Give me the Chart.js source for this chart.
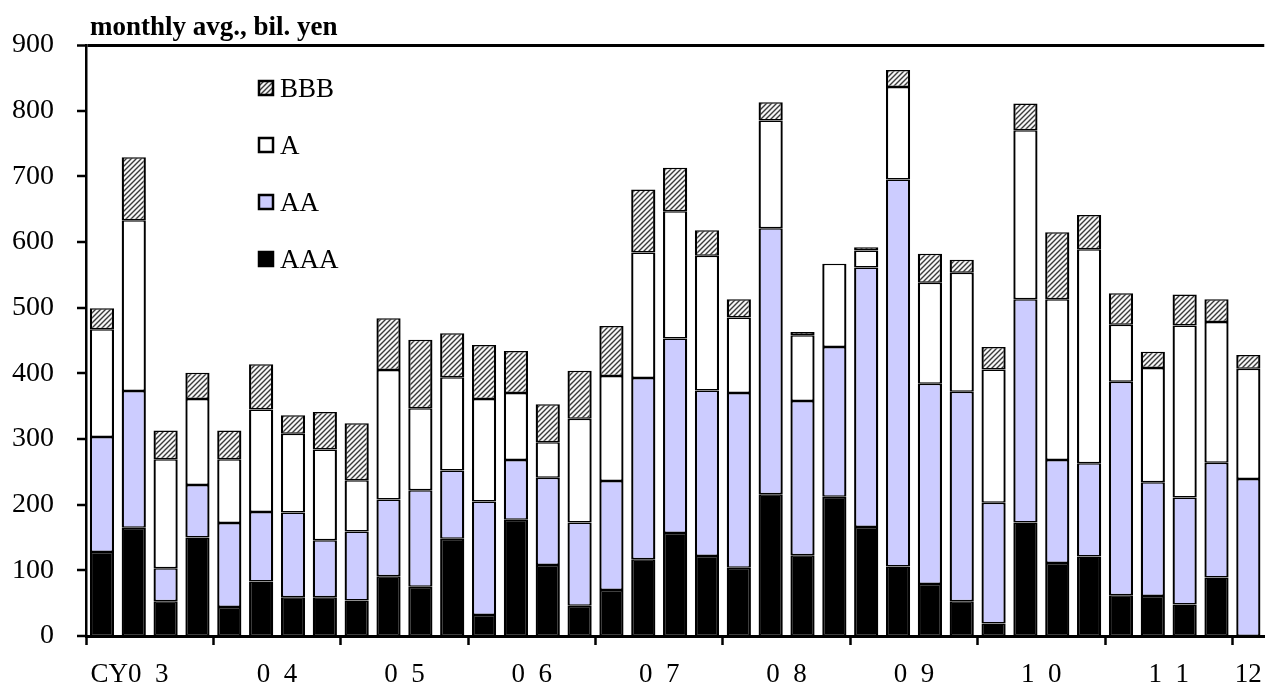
<!DOCTYPE html>
<html>
<head>
<meta charset="utf-8">
<script src="https://cdn.jsdelivr.net/npm/chart.js@4.4.1/dist/chart.umd.min.js"></script>
<style>
  html, body { margin: 0; padding: 0; background: #fff; overflow: hidden; }
  #wrap { width: 1276px; height: 690px; }
</style>
</head>
<body>
<div id="wrap"><canvas id="bonds" width="1276" height="690"></canvas></div>
<script>
// quarterly issuance by rating, monthly avg., bil. yen (CY2003 Q1 .. CY2012 Q1)
const quarters = [
  '03Q1', '03Q2', '03Q3', '03Q4', '04Q1', '04Q2', '04Q3', '04Q4',
  '05Q1', '05Q2', '05Q3', '05Q4', '06Q1', '06Q2', '06Q3', '06Q4',
  '07Q1', '07Q2', '07Q3', '07Q4', '08Q1', '08Q2', '08Q3', '08Q4',
  '09Q1', '09Q2', '09Q3', '09Q4', '10Q1', '10Q2', '10Q3', '10Q4',
  '11Q1', '11Q2', '11Q3', '11Q4', '12Q1'
];

// year labels as printed under the axis, and the quarter index where each year starts
const yearLabels = ['CY0  3', '0  4', '0  5', '0  6', '0  7', '0  8', '0  9', '1  0', '1  1', '12'];
const yearStart = [0, 4, 8, 12, 16, 20, 24, 28, 32, 36];

const aaa = [128, 165, 53, 150, 44, 83, 59, 59, 54, 91, 75, 148, 32, 177, 108, 46,
             70, 117, 157, 122, 104, 216, 123, 212, 166, 106, 79, 53, 19, 173, 111, 121,
             62, 61, 48, 89, 0];
const aa = [175, 208, 50, 80, 128, 106, 129, 87, 105, 117, 147, 104, 173, 91, 133, 127,
            166, 276, 296, 252, 266, 405, 235, 228, 395, 589, 305, 319, 184, 340, 157, 142,
            325, 173, 163, 175, 239];
const singleA = [164, 260, 166, 131, 97, 156, 120, 138, 78, 197, 125, 142, 156, 102, 54, 158,
                 160, 191, 194, 205, 115, 164, 100, 127, 26, 141, 154, 181, 203, 257, 245, 326,
                 87, 174, 262, 214, 168];
const bbb = [32, 96, 44, 40, 44, 69, 28, 57, 87, 79, 104, 67, 82, 64, 58, 73,
             76, 96, 66, 39, 28, 28, 5, 0, 5, 26, 44, 20, 34, 41, 102, 52,
             48, 25, 47, 35, 21];

const unitText = 'monthly avg., bil. yen';
const yTicks = [0, 100, 200, 300, 400, 500, 600, 700, 800, 900];

const canvas = document.getElementById('bonds');
const ctx = canvas.getContext('2d');

// diagonal hatch used for BBB
function makeHatch() {
  const n = 5;
  const c = document.createElement('canvas');
  c.width = n; c.height = n;
  const g = c.getContext('2d');
  g.fillStyle = '#f7f7f7';
  g.fillRect(0, 0, n, n);
  g.strokeStyle = '#3a3a3a';
  g.lineWidth = 1.4;
  g.beginPath();
  g.moveTo(-1, n + 1); g.lineTo(n + 1, -1);
  g.moveTo(-1, 1); g.lineTo(1, -1);
  g.moveTo(n - 1, n + 1); g.lineTo(n + 1, n - 1);
  g.stroke();
  return ctx.createPattern(c, 'repeat');
}

const FONT = '"Liberation Serif", "Times New Roman", serif';
Chart.defaults.font.family = FONT;
Chart.defaults.color = '#000';

function segment(label, data, fill) {
  return {
    label,
    data,
    backgroundColor: fill,
    borderColor: '#000',
    borderWidth: { top: 1.5, bottom: 1.5, left: 2.3, right: 2.3 },
    borderSkipped: false,
    barPercentage: 0.76,
    categoryPercentage: 1
  };
}

// ticks for the visible year axis: boundaries get a mark, centres get the label
function yearTicks() {
  const out = [];
  yearStart.forEach((s, i) => {
    const end = i + 1 < yearStart.length ? yearStart[i + 1] : quarters.length;
    out.push({ value: s, boundary: true });
    let label = yearLabels[i];
    if (i === 0) label += '\u2002\u2002\u2002'; // keep "0 3" under the year centre
    out.push({ value: s + (end - s) / 2, label });
  });
  return out.sort((a, b) => a.value - b.value);
}

const captionPlugin = {
  id: 'caption',
  afterDraw(chart) {
    const c = chart.ctx;
    c.save();
    c.font = 'bold 27px ' + FONT;
    c.fillStyle = '#000';
    c.textBaseline = 'alphabetic';
    c.fillText(unitText, chart.chartArea.left + 4, chart.chartArea.top - 10);
    c.restore();
  }
};

// legend inside the plot, top rating first
const boxLegend = {
  id: 'boxLegend',
  afterDatasetsDraw(chart) {
    const c = chart.ctx;
    const { left, top } = chart.chartArea;
    const items = chart.data.datasets.slice().reverse();
    c.save();
    c.font = '27px ' + FONT;
    c.textBaseline = 'alphabetic';
    items.forEach((ds, i) => {
      const cy = top + 43 + i * 57;
      c.fillStyle = ds.backgroundColor;
      c.fillRect(left + 173, cy - 7, 14, 14);
      c.strokeStyle = '#000';
      c.lineWidth = 2.5;
      c.strokeRect(left + 173, cy - 7, 14, 14);
      c.fillStyle = '#000';
      c.fillText(ds.label, left + 194, cy + 9);
    });
    c.restore();
  }
};

new Chart(ctx, {
  type: 'bar',
  data: {
    labels: quarters,
    datasets: [
      segment('AAA', aaa, '#000000'),
      segment('AA', aa, '#ccccff'),
      segment('A', singleA, '#ffffff'),
      segment('BBB', bbb, makeHatch())
    ]
  },
  options: {
    responsive: false,
    animation: false,
    events: [],
    layout: { padding: { top: 45, right: 2, left: 0, bottom: 0 } },
    plugins: {
      legend: { display: false },
      tooltip: { enabled: false }
    },
    scales: {
      x: {
        stacked: true,
        display: false
      },
      years: {
        type: 'linear',
        position: 'bottom',
        min: 0,
        max: quarters.length,
        bounds: 'data',
        offset: false,
        afterBuildTicks: scale => { scale.ticks = yearTicks(); },
        afterFit: scale => { scale.height = 54; },
        ticks: {
          autoSkip: false,
          maxRotation: 0,
          padding: 14,
          font: { size: 27 },
          callback: (v, i, ticks) => ticks[i].label || ''
        },
        grid: {
          offset: false,
          drawOnChartArea: false,
          tickLength: 9,
          tickWidth: 2.5,
          tickColor: c => (c.tick && c.tick.boundary) ? '#000' : 'rgba(0,0,0,0)'
        },
        border: { display: true, color: '#000', width: 3 }
      },
      y: {
        stacked: true,
        min: 0,
        max: 900,
        afterBuildTicks: scale => { scale.ticks = yTicks.map(v => ({ value: v })); },
        afterFit: scale => { scale.width = 86; },
        ticks: {
          padding: 23,
          font: { size: 28 }
        },
        grid: {
          tickLength: 9,
          tickWidth: 2.5,
          tickColor: '#000',
          color: c => (c.tick && c.tick.value === 900) ? '#000' : 'rgba(0,0,0,0)',
          lineWidth: c => (c.tick && c.tick.value === 900) ? 3 : 0
        },
        border: { display: true, color: '#000', width: 2.5 }
      }
    }
  },
  plugins: [captionPlugin, boxLegend]
});
</script>
</body>
</html>
